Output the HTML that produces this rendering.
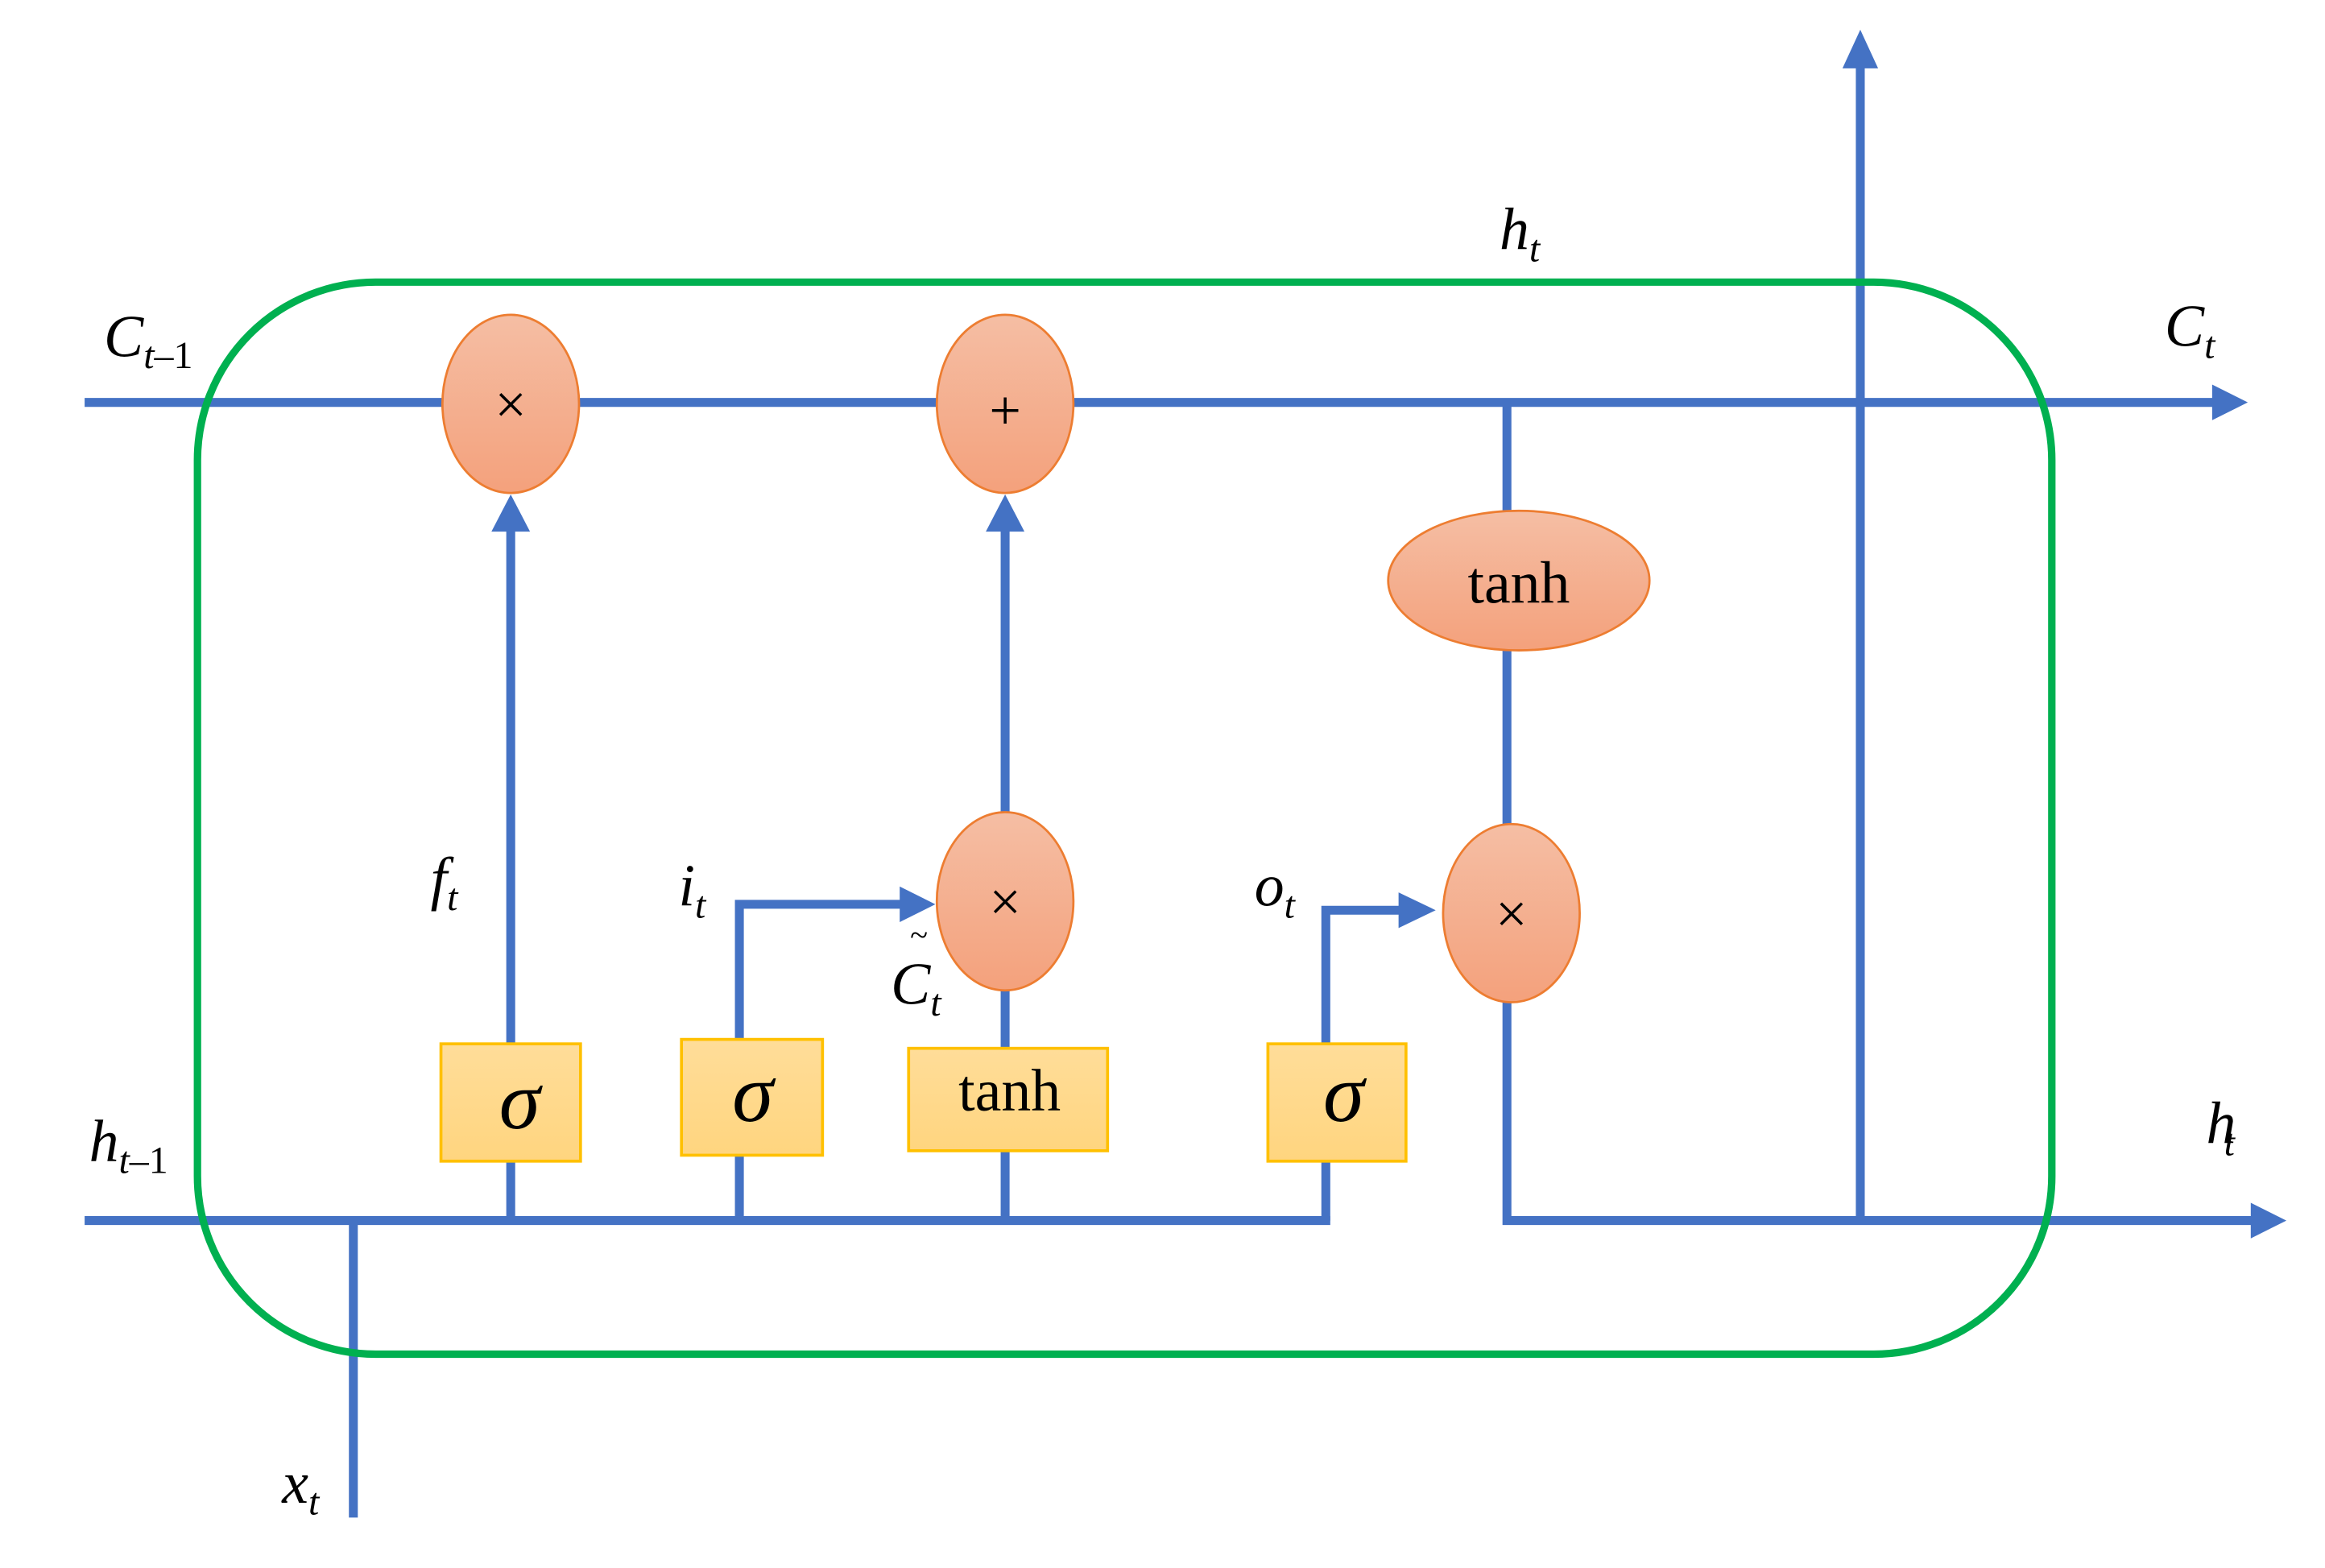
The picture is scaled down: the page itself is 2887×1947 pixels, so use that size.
<!DOCTYPE html>
<html><head><meta charset="utf-8"><style>
html,body{margin:0;padding:0;background:#fff;}
svg{display:block;}
text{font-family:"Liberation Serif",serif;fill:#000;}
.it{font-style:italic;}
</style></head><body>
<svg width="2887" height="1947" viewBox="0 0 1566 1056" preserveAspectRatio="none" xmlns="http://www.w3.org/2000/svg">
<defs>
<linearGradient id="eg" x1="0" y1="0" x2="0" y2="1"><stop offset="0" stop-color="#f5bea4"/><stop offset="1" stop-color="#f4a17c"/></linearGradient>
<linearGradient id="bg" x1="0" y1="0" x2="0" y2="1"><stop offset="0" stop-color="#ffdd99"/><stop offset="1" stop-color="#ffd57f"/></linearGradient>
</defs>
<g stroke="#4472c4" stroke-width="6" fill="none">
<line x1="57" y1="271" x2="1492" y2="271"/>
<line x1="57" y1="822" x2="896" y2="822"/>
<polyline points="893,822 893,613 948,613"/>
<polyline points="1015,271 1015,822 1520,822"/>
<line x1="1253" y1="822" x2="1253" y2="42"/>
<line x1="238" y1="822" x2="238" y2="1022"/>
<line x1="344" y1="822" x2="344" y2="355"/>
<polyline points="498,822 498,609 610,609"/>
<line x1="677" y1="822" x2="677" y2="355"/>
</g>
<g fill="#4472c4">
<polygon points="1490,259 1514,271 1490,283"/>
<polygon points="1516,810 1540,822 1516,834"/>
<polygon points="1241,46 1253,20 1265,46"/>
<polygon points="331,358 344,333 357,358"/>
<polygon points="664,358 677,333 690,358"/>
<polygon points="606,597 630,609 606,621"/>
<polygon points="942,601 967,613 942,625"/>
</g>
<rect x="133" y="190" width="1249" height="722" rx="120" ry="120" fill="none" stroke="#00b050" stroke-width="5"/>
<g fill="url(#eg)" stroke="#ed7d31" stroke-width="1.5">
<ellipse cx="344" cy="272" rx="46" ry="60"/>
<ellipse cx="677" cy="272" rx="46" ry="60"/>
<ellipse cx="1023" cy="391" rx="88" ry="47"/>
<ellipse cx="677" cy="607" rx="46" ry="60"/>
<ellipse cx="1018" cy="615" rx="46" ry="60"/>
</g>
<g fill="url(#bg)" stroke="#ffc000" stroke-width="2">
<rect x="297" y="703" width="94" height="79"/>
<rect x="459" y="700" width="95" height="78"/>
<rect x="612" y="706" width="134" height="69"/>
<rect x="854" y="703" width="93" height="79"/>
</g>
<g font-size="38" text-anchor="middle">
<text x="344" y="285">×</text>
<text x="677" y="289">+</text>
<text x="677" y="620">×</text>
<text x="1018" y="628">×</text>
</g>
<g font-size="40" text-anchor="middle">
<text x="1023" y="406">tanh</text>
<text x="680" y="748">tanh</text>
</g>
<g font-size="56" class="it" text-anchor="middle">
<text x="350" y="760">σ</text>
<text x="507" y="755">σ</text>
<text x="905" y="755">σ</text>
</g>
<g font-size="40" class="it">
<text x="70" y="240">C<tspan font-size="26" dy="8">t</tspan><tspan font-size="26" font-style="normal">–1</tspan></text>
<text x="1010" y="168">h<tspan font-size="26" dy="8">t</tspan></text>
<text x="1458" y="233">C<tspan font-size="26" dy="8">t</tspan></text>
<text x="290" y="605">f<tspan font-size="26" dy="8">t</tspan></text>
<text x="457" y="610">i<tspan font-size="26" dy="8">t</tspan></text>
<text x="600" y="676">C<tspan font-size="26" dy="8">t</tspan></text>
<text x="613" y="637" font-size="22" font-style="normal">~</text>
<text x="845" y="610">o<tspan font-size="26" dy="8">t</tspan></text>
<text x="60" y="782">h<tspan font-size="26" dy="8">t</tspan><tspan font-size="26" font-style="normal">–1</tspan></text>
<text x="1486" y="770">h<tspan font-size="26" dy="8" dx="-8">t</tspan></text>
<text x="190" y="1012">x<tspan font-size="26" dy="8">t</tspan></text>
</g>
</svg>
</body></html>
